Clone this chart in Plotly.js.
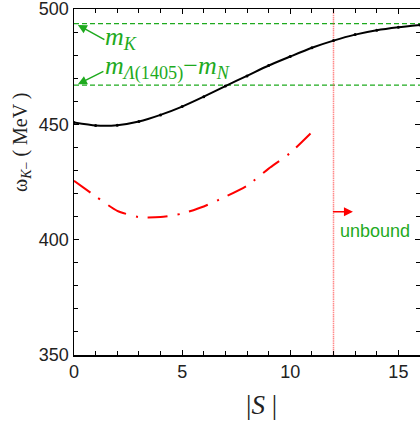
<!DOCTYPE html>
<html><head><meta charset="utf-8">
<script src="https://cdn.plot.ly/plotly-3.0.1.min.js"></script>
<style>html,body{margin:0;padding:0;background:#fff}#c{width:420px;height:423px}</style>
</head><body><div id="c"></div>
<script>
const S_black = [0,1,2,3,4,5,6,7,8,9,10,11,12,13,14,15,16];
const omega_black = [450.8,449.5,449.6,451.2,454.1,457.7,462.0,466.6,471.0,475.5,479.4,483.2,486.3,488.9,490.8,492.1,493.1];
const S_red = [0,1,2,3,4,5,6,7,8,9,10,11];
const omega_red = [425.5,418.8,412.5,409.8,409.8,411.3,414.4,418.6,423.4,430.8,437.6,446.6];
const mK = 493.7;
const mLambdaMinusMN = 467.0;
const unboundS = 12;
const xRange = [0,16];
const yRange = [350,500];

const green = 'rgb(30,170,30)';
const data = [
  {x: xRange, y: [mK,mK], mode:'lines', line:{color:green, width:1.2, dash:'5px,3px'}, showlegend:false, hoverinfo:'skip'},
  {x: xRange, y: [mLambdaMinusMN,mLambdaMinusMN], mode:'lines', line:{color:green, width:1.2, dash:'5px,3px'}, showlegend:false, hoverinfo:'skip'},
  {x: [unboundS,unboundS], y: yRange, mode:'lines', line:{color:'rgba(255,60,60,0.6)', width:1.5, dash:'1.5px,0.7px'}, showlegend:false, hoverinfo:'skip'},
  {x: S_black, y: omega_black, mode:'lines+markers', line:{color:'black', width:2, shape:'spline', smoothing:0.6},
   marker:{color:'black', size:3}, showlegend:false, hoverinfo:'skip'},
  {x: S_red, y: omega_red, mode:'lines', line:{color:'red', width:2, dash:'20px,10px,2px,10px', shape:'spline', smoothing:0.6},
   showlegend:false, hoverinfo:'skip'}
];

const axisCommon = {showline:true, linecolor:'black', linewidth:1.5, mirror:'allticks', ticks:'inside', ticklen:5, tickwidth:1, tickcolor:'black',
  showgrid:false, zeroline:false, ticklabeloverflow:'allow',
  tickfont:{family:'Liberation Sans, Arial, sans-serif', size:18, color:'#222'}};

const arrowTxt = {text:'', font:{size:1}, borderpad:0, showarrow:true, arrowhead:2, arrowsize:1.2, arrowwidth:1.5};

const layout = {
  width:420, height:423,
  margin:{l:74, r:0, t:9, b:68},
  paper_bgcolor:'white', plot_bgcolor:'white',
  xaxis: Object.assign({}, axisCommon, {range:xRange, dtick:5, tick0:0,
    minor:{dtick:1, ticks:'inside', ticklen:4, tickcolor:'black', showgrid:false}}),
  yaxis: Object.assign({}, axisCommon, {range:[yRange[0], yRange[1]+0.001], dtick:50, tick0:350,
    minor:{dtick:10, ticks:'inside', ticklen:4, tickcolor:'black', showgrid:false}}),
  annotations:[
    {xref:'paper', yref:'paper', x:0.543, y:-0.145, text:'|<i>S</i> |', showarrow:false,
     font:{family:'Liberation Serif, Times New Roman, serif', size:27, color:'#222'}, xanchor:'center', yanchor:'middle'},
    {xref:'paper', yref:'paper', x:-0.150, y:0.613, text:'ω<sub><i>K</i>−</sub> ( MeV )', showarrow:false, textangle:-90,
     font:{family:'Liberation Serif, Times New Roman, serif', size:20, color:'#222'}, xanchor:'center', yanchor:'middle'},
    Object.assign({x:0.18, y:mK-0.6, ax:27, ay:15, arrowcolor:green}, arrowTxt),
    {xref:'x', yref:'y', x:1.35, y:487.3, text:'<i>m</i><sub><i>K</i></sub>', showarrow:false, xanchor:'left', yanchor:'middle',
     font:{family:'Liberation Serif, Times New Roman, serif', size:26, color:green}},
    Object.assign({x:0.18, y:mLambdaMinusMN+0.4, ax:26, ay:-13, arrowcolor:green}, arrowTxt),
    {xref:'x', yref:'y', x:1.35, y:474.5, text:'<i>m</i><sub><i>Λ</i>(1405)</sub>−<i>m</i><sub><i>N</i></sub>', showarrow:false, xanchor:'left', yanchor:'middle',
     font:{family:'Liberation Serif, Times New Roman, serif', size:26, color:green}},
    Object.assign({x:12.9, y:412.1, ax:-20.5, ay:0, arrowcolor:'red'}, arrowTxt),
    {x:12.2, y:403.8, text:'unbound', showarrow:false, xanchor:'left', yanchor:'middle',
     font:{family:'Liberation Sans, Arial, sans-serif', size:18, color:green}}
  ]
};
Plotly.newPlot('c', data, layout, {staticPlot:true, displayModeBar:false});
</script></body></html>
